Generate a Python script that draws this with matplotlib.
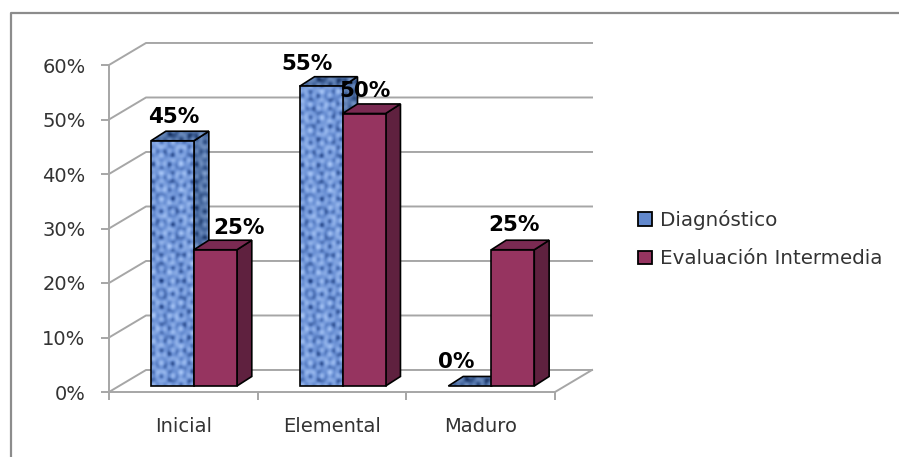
import numpy as np
import matplotlib
matplotlib.use("Agg")
import matplotlib.pyplot as plt
from matplotlib.colors import LinearSegmentedColormap
from matplotlib.lines import Line2D
from matplotlib.patches import Patch, Polygon
from matplotlib.ticker import PercentFormatter

categories = ["Inicial", "Elemental", "Maduro"]
diagnostico = [0.45, 0.55, 0.0]
evaluacion = [0.25, 0.50, 0.25]
y_ticks = [0.0, 0.1, 0.2, 0.3, 0.4, 0.5, 0.6]
series_names = ["Diagnóstico", "Evaluación Intermedia"]

W, H = 899, 457
GRID = "#a6a6a6"
TEXT = "#333333"

# desplazamiento de la pared del fondo y de cada barra (unidades de datos)
WALL_DX, WALL_DY = 0.249, 0.0404
BAR_DX, BAR_DY = 0.10, 0.0175
BAR_W = 0.289
LIFT = 0.011
BLUE_OFF = 0.2825
RED_OFF = BLUE_OFF + BAR_W

# etiquetas movidas a mano en el original (px)
blue_label_dx = [1, -14, -14]
blue_label_dy = [14, 13, 14]
red_label_dx = [23, 1, 1]
red_label_dy = [12, 13, 15]

blue_front = LinearSegmentedColormap.from_list("bf", ["#1f3f80", "#6a90d4", "#aac8f8"])
blue_dark = LinearSegmentedColormap.from_list("bd", ["#16305f", "#46689f", "#7d9ccb"])


def weave(rows, cols):
    yy, xx = np.mgrid[0:rows, 0:cols]
    a = np.sin(xx * 1.05) * np.cos(yy * 0.35 + 0.7 * np.sin(xx * 0.13))
    b = np.sin(yy * 0.95 + 1.1) * np.cos(xx * 0.41)
    c = np.sin(xx * 0.23 + yy * 0.31) * np.sin(xx * 0.17 - yy * 0.27)
    z = 0.4 * a + 0.4 * b + 0.35 * c
    z = (z - z.min()) / (z.max() - z.min())
    return z ** 0.8


def textured(ax, xy, cmap, zorder):
    xy = np.array(xy)
    x0, y0 = xy.min(axis=0)
    x1, y1 = xy.max(axis=0)
    rows = max(int((y1 - y0) * 545 / 1.3), 2)
    cols = max(int((x1 - x0) * 148.67 / 1.3), 2)
    clip = Polygon(xy, closed=True, facecolor="none", edgecolor="none", transform=ax.transData)
    ax.add_patch(clip)
    im = ax.imshow(weave(rows, cols), extent=(x0, x1, y0, y1), cmap=cmap, aspect="auto",
                   interpolation="bilinear", origin="lower", zorder=zorder)
    im.set_clip_path(clip)
    ax.add_patch(Polygon(xy, closed=True, fill=False, edgecolor="black", linewidth=1.2,
                         zorder=zorder + 0.1, clip_on=False))


def box_faces(x, value):
    y1 = LIFT + value
    side_xy = [(x + BAR_W, LIFT), (x + BAR_W + BAR_DX, LIFT + BAR_DY),
               (x + BAR_W + BAR_DX, y1 + BAR_DY), (x + BAR_W, y1)]
    top_xy = [(x, y1), (x + BAR_DX, y1 + BAR_DY), (x + BAR_W + BAR_DX, y1 + BAR_DY), (x + BAR_W, y1)]
    front_xy = [(x, LIFT), (x + BAR_W, LIFT), (x + BAR_W, y1), (x, y1)]
    return front_xy, side_xy, top_xy


def draw_red(ax, x, value, zorder):
    _, side_xy, top_xy = box_faces(x, value)
    ax.add_patch(Polygon(side_xy, closed=True, facecolor="#5f213f", edgecolor="black", linewidth=1.2,
                         zorder=zorder, clip_on=False))
    ax.add_patch(Polygon(top_xy, closed=True, facecolor="#7a2a52", edgecolor="black", linewidth=1.2,
                         zorder=zorder + 0.1, clip_on=False))
    ax.bar(x, value, BAR_W, bottom=LIFT, align="edge", color="#963460", edgecolor="black",
           linewidth=1.2, zorder=zorder + 0.2, clip_on=False)


def draw_blue(ax, x, value, zorder):
    front_xy, side_xy, top_xy = box_faces(x, value)
    textured(ax, side_xy, blue_dark, zorder)
    textured(ax, top_xy, blue_dark, zorder + 0.2)
    if value > 0:
        ax.bar(x, value, BAR_W, bottom=LIFT, align="edge", color="#6288cc", zorder=zorder + 0.4, clip_on=False)
        textured(ax, front_xy, blue_front, zorder + 0.5)


fig = plt.figure(figsize=(W / 100, H / 100), dpi=100, facecolor="white")
ax = fig.add_axes([109 / W, (H - 392) / H, (555 - 109) / W, (392 - 65) / H])
ax.patch.set_alpha(0)

# marco de la imagen (solo izquierda y arriba)
fig.add_artist(Line2D([10.5 / W, 10.5 / W, 1], [0, (H - 12.5) / H, (H - 12.5) / H],
                      color="#8c8c8c", linewidth=1.6))

# pared del fondo y suelo
for t in y_ticks:
    ax.plot([0, WALL_DX, 3 + WALL_DX], [t, t + WALL_DY, t + WALL_DY], color=GRID, linewidth=1.4,
            zorder=1, clip_on=False)
ax.plot([3, 3 + WALL_DX], [0, WALL_DY], color=GRID, linewidth=1.4, zorder=1, clip_on=False)

for i in range(len(categories)):
    draw_blue(ax, i + BLUE_OFF, diagnostico[i], 2 + i * 2)
    draw_red(ax, i + RED_OFF, evaluacion[i], 3.2 + i * 2)

for i in range(len(categories)):
    ax.annotate(f"{diagnostico[i]:.0%}", (i + BLUE_OFF + BAR_W / 2, LIFT + diagnostico[i] + BAR_DY),
                xytext=(blue_label_dx[i], blue_label_dy[i]), textcoords="offset pixels", ha="center",
                va="center", fontsize=15.5, fontweight="bold", color="black", zorder=20, annotation_clip=False)
    ax.annotate(f"{evaluacion[i]:.0%}", (i + RED_OFF + BAR_W / 2, LIFT + evaluacion[i] + BAR_DY),
                xytext=(red_label_dx[i], red_label_dy[i]), textcoords="offset pixels", ha="center",
                va="center", fontsize=15.5, fontweight="bold", color="black", zorder=20, annotation_clip=False)

ax.set_xlim(0, 3)
ax.set_ylim(0, 0.6)
for side in ["top", "right"]:
    ax.spines[side].set_visible(False)
for side in ["left", "bottom"]:
    ax.spines[side].set_color(GRID)
    ax.spines[side].set_linewidth(1.4)

ax.set_yticks(y_ticks)
ax.yaxis.set_major_formatter(PercentFormatter(1.0, decimals=0))
ax.set_xticks([0, 1, 2, 3])
ax.set_xticklabels([])
ax.set_xticks([0.5, 1.5, 2.5], labels=categories, minor=True)
ax.tick_params(axis="both", which="major", length=6, width=1.4, color=GRID)
ax.tick_params(axis="y", labelsize=14, labelcolor=TEXT, pad=11)
ax.tick_params(axis="x", which="minor", length=0, labelsize=14, labelcolor=TEXT, pad=18)

handles = [Patch(facecolor="#6288cc", edgecolor="black", linewidth=1.3),
           Patch(facecolor="#963460", edgecolor="black", linewidth=1.3)]
fig.legend(handles, series_names, loc="center left", bbox_to_anchor=(638 / W, (H - 239) / H), frameon=False,
           fontsize=14.3, labelcolor=TEXT, handlelength=0.7, handleheight=0.7, handletextpad=0.4,
           labelspacing=1.0, borderpad=0, borderaxespad=0)

fig.savefig("out.png", dpi=100)
